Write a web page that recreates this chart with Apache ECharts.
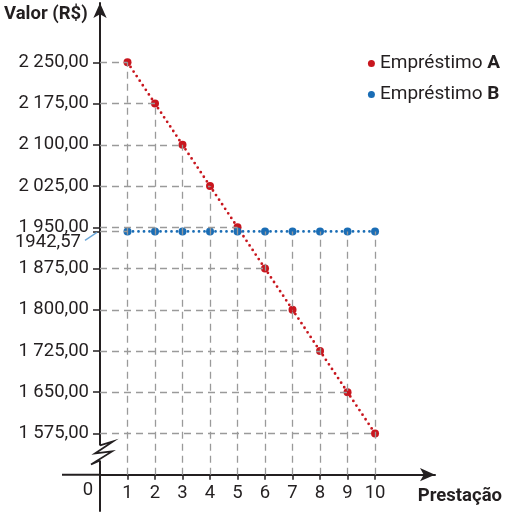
<!DOCTYPE html>
<html><head><meta charset="utf-8">
<script src="https://cdn.jsdelivr.net/npm/echarts@6/dist/echarts.min.js"></script>
<style>html,body{margin:0;padding:0;background:#fff}#c{width:507px;height:514px}</style>
</head><body><div id="c"></div>
<script>
const prestacoes = [1,2,3,4,5,6,7,8,9,10];
const emprestimoA = [2250,2175,2100,2025,1950,1875,1800,1725,1650,1575];
const emprestimoB = [1942.57,1942.57,1942.57,1942.57,1942.57,1942.57,1942.57,1942.57,1942.57,1942.57];
const yTickValues = [1575,1650,1725,1800,1875,1950,2025,2100,2175,2250];
const valorDestaque = 1942.57;
const yBase = 1500;

const RED = '#c8161e', BLUE = '#1a6db5', INK = '#231f20', GRID = '#9a9a9a';
const FONT = 'Roboto';
const fmt = v => {
  const s = v.toFixed(2).replace('.', ',');
  const [i, d] = s.split(',');
  return i.slice(0, 1) + ' ' + i.slice(1) + ',' + d;
};

const drops = [];
prestacoes.forEach((p, k) => {
  const top = Math.max(emprestimoA[k], emprestimoB[k]);
  drops.push([{coord:[p, yBase]}, {coord:[p, top]}]);
  drops.push([{coord:[0, emprestimoA[k]]}, {coord:[p, emprestimoA[k]]}]);
});
drops.push([{coord:[0, emprestimoB[0]]}, {coord:[prestacoes[0], emprestimoB[0]]}]);

const chart = echarts.init(document.getElementById('c'), null, {renderer:'canvas'});
chart.setOption({
  animation:false,
  textStyle:{fontFamily:FONT},
  title:[
    {text:'Valor (R$)', left:-1, top:0, textStyle:{fontFamily:FONT,fontWeight:'bold',fontSize:18.5,color:INK}},
    {text:'Prestação', right:0, top:482, textStyle:{fontFamily:FONT,fontWeight:'bold',fontSize:18.5,color:INK}}
  ],
  legend:{
    orient:'vertical', right:2, top:49, icon:'circle', itemWidth:7, itemHeight:7, itemGap:12,
    textStyle:{fontFamily:FONT,fontSize:19,color:INK,
      rich:{n:{fontFamily:FONT,fontSize:19,color:INK},b:{fontFamily:FONT,fontSize:19,color:INK,fontWeight:'bold'}}},
    formatter: name => '{n|' + name.slice(0, -1) + '}{b|' + name.slice(-1) + '}',
    data:['Empréstimo A','Empréstimo B']
  },
  grid:{left:100, right:72, top:3, bottom:39.3, outerBoundsMode:'none', containLabel:false},
  xAxis:{
    type:'value', min:0, max:12.18,
    axisLine:{onZero:false, symbol:['none','arrow'], symbolSize:[10,15], lineStyle:{color:INK,width:2}},
    axisTick:{customValues:prestacoes, length:5, lineStyle:{color:INK,width:1.5}},
    axisLabel:{customValues:prestacoes, margin:9, fontSize:18.5, color:INK, fontFamily:FONT},
    splitLine:{show:false}
  },
  yAxis:{
    type:'value', min:yBase, max:2358,
    axisLine:{show:true, onZero:false, symbol:['none','arrow'], symbolSize:[10,15], lineStyle:{color:INK,width:2}},
    axisTick:{customValues:yTickValues.concat([valorDestaque]), length:7, lineStyle:{color:INK,width:1.5}},
    axisLabel:{customValues:yTickValues, margin:11, fontSize:18.5, color:INK, fontFamily:FONT, formatter:fmt},
    splitLine:{show:false}
  },
  series:[
    {type:'line', name:'guides', data:[], silent:true, z:1,
     markLine:{silent:true, symbol:['none','none'], label:{show:false}, animation:false,
       lineStyle:{type:[7,5], color:GRID, width:1.3}, data:drops}},
    {type:'line', name:'Empréstimo A', color:RED, z:3,
     data:prestacoes.map((p,k)=>[p, emprestimoA[k]]),
     symbol:'circle', symbolSize:8, itemStyle:{color:RED},
     lineStyle:{color:RED, width:2.8, type:[0,5.5], cap:'round'}},
    {type:'line', name:'Empréstimo B', color:BLUE, z:3,
     data:prestacoes.map((p,k)=>[p, emprestimoB[k]]),
     symbol:'circle', symbolSize:8, itemStyle:{color:BLUE},
     lineStyle:{color:BLUE, width:2.8, type:[0,5.5], cap:'round'}}
  ]
});

const o = chart.convertToPixel({gridIndex:0}, [0, yBase]);
const pB = chart.convertToPixel({gridIndex:0}, [0, valorDestaque]);
const pLow = chart.convertToPixel({gridIndex:0}, [0, yTickValues[0]]);
const ox = o[0], oy = o[1];
const bTop = pLow[1] + 12;
chart.setOption({
  graphic:[
    {type:'line', shape:{x1:ox, y1:oy, x2:ox, y2:oy+37}, style:{stroke:INK, lineWidth:2}, z:10},
    {type:'line', shape:{x1:ox-38, y1:oy, x2:ox, y2:oy}, style:{stroke:INK, lineWidth:2}, z:10},
    {type:'rect', shape:{x:ox-4, y:bTop, width:8, height:15}, style:{fill:'#fff'}, z:10},
    {type:'polyline', shape:{points:[[ox,bTop],[ox+13,bTop-4],[ox-5,bTop+8],[ox+12,bTop+6],[ox-9,bTop+19],[ox,bTop+15]]},
     style:{stroke:INK, lineWidth:1.8, fill:null}, z:11},
    {type:'text', x:ox-12, y:oy+16, style:{text:'0', font:'18.5px '+FONT, fill:INK, align:'center', verticalAlign:'middle'}, z:10},
    {type:'text', x:81, y:pB[1]+11, style:{text:'1942,57', font:'18.5px '+FONT, fill:INK, align:'right', verticalAlign:'middle'}, z:10},
    {type:'line', shape:{x1:85, y1:pB[1]+9, x2:ox-3, y2:pB[1]+1}, style:{stroke:'#6aa6d8', lineWidth:1.3}, z:10}
  ]
});
</script></body></html>
